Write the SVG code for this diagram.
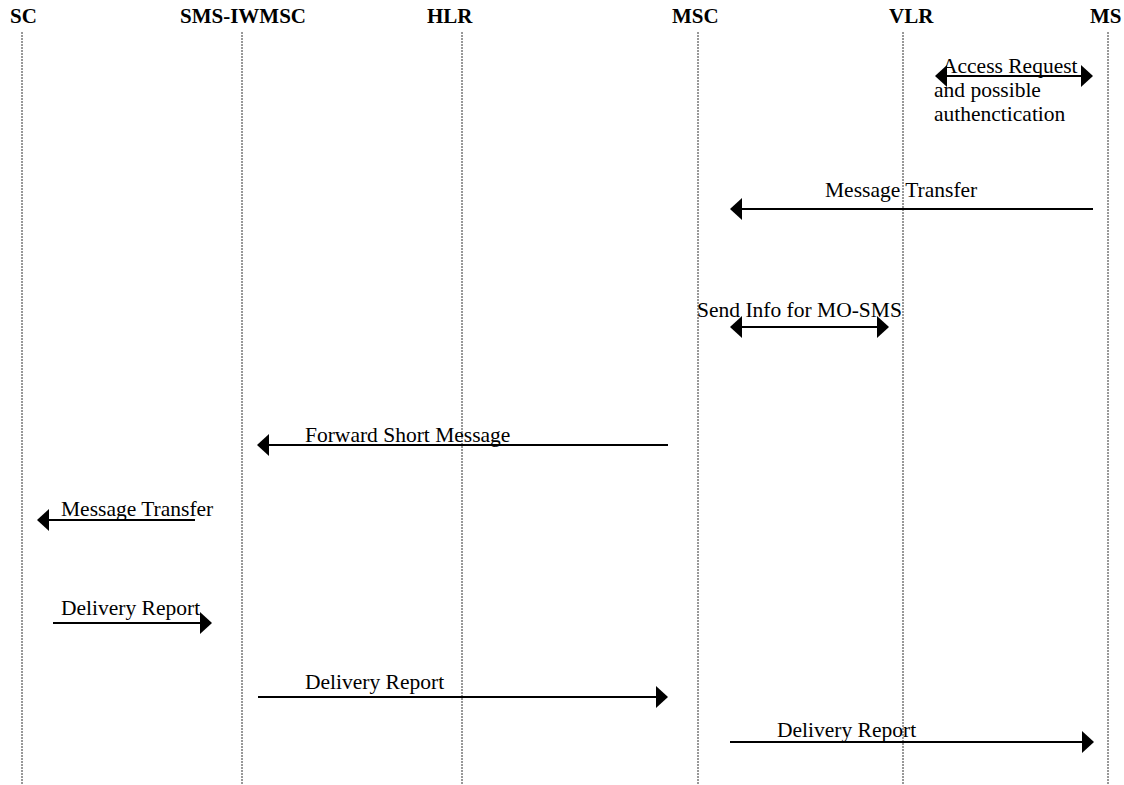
<svg xmlns="http://www.w3.org/2000/svg" width="1124" height="785" viewBox="0 0 1124 785">
<style>
.hdr{font-family:"Liberation Serif",serif;font-weight:bold;font-size:21px;fill:#000}
.lbl{font-family:"Liberation Serif",serif;font-size:21.5px;fill:#000}
.life{stroke:#333;stroke-width:1;stroke-dasharray:2,1;fill:none}
.msg{stroke:#000;stroke-width:2;fill:none}
</style>
<defs>
<marker id="ah" markerUnits="userSpaceOnUse" markerWidth="12" markerHeight="22" viewBox="0 0 12 22" refX="11" refY="11" orient="auto-start-reverse">
<path d="M0,0 L12,11 L0,22 z" fill="#000"/>
</marker>
</defs>
<rect width="1124" height="785" fill="#fff"/>
<g id="node-sc"><text class="hdr" x="10" y="23">SC</text><line class="life" x1="22" y1="32" x2="22" y2="785"/></g>
<g id="node-smsiwmsc"><text class="hdr" x="180" y="23">SMS-IWMSC</text><line class="life" x1="242" y1="32" x2="242" y2="785"/></g>
<g id="node-hlr"><text class="hdr" x="427" y="23">HLR</text><line class="life" x1="462" y1="32" x2="462" y2="785"/></g>
<g id="node-msc"><text class="hdr" x="672" y="23">MSC</text><line class="life" x1="698" y1="32" x2="698" y2="785"/></g>
<g id="node-vlr"><text class="hdr" x="889" y="23">VLR</text><line class="life" x1="903" y1="32" x2="903" y2="785"/></g>
<g id="node-ms"><text class="hdr" x="1090" y="23">MS</text><line class="life" x1="1108" y1="32" x2="1108" y2="785"/></g>
<g id="connectors">
<line class="msg" x1="936" y1="76" x2="1092" y2="76" marker-start="url(#ah)" marker-end="url(#ah)"/>
<text class="lbl" x="942" y="73">Access Request</text>
<text class="lbl" x="934" y="97">and possible</text>
<text class="lbl" x="934" y="121">authenctication</text>

<line class="msg" x1="1093" y1="209" x2="731" y2="209" marker-end="url(#ah)"/>
<text class="lbl" x="825" y="197">Message Transfer</text>

<line class="msg" x1="731" y1="327" x2="888" y2="327" marker-start="url(#ah)" marker-end="url(#ah)"/>
<text class="lbl" x="697" y="317">Send Info for MO-SMS</text>

<line class="msg" x1="668" y1="445" x2="258" y2="445" marker-end="url(#ah)"/>
<text class="lbl" x="305" y="442">Forward Short Message</text>

<line class="msg" x1="195" y1="520" x2="38" y2="520" marker-end="url(#ah)"/>
<text class="lbl" x="61" y="516">Message Transfer</text>

<line class="msg" x1="53" y1="623" x2="211" y2="623" marker-end="url(#ah)"/>
<text class="lbl" x="61" y="615">Delivery Report</text>

<line class="msg" x1="258" y1="697" x2="667" y2="697" marker-end="url(#ah)"/>
<text class="lbl" x="305" y="689">Delivery Report</text>

<line class="msg" x1="730" y1="742" x2="1093" y2="742" marker-end="url(#ah)"/>
<text class="lbl" x="777" y="737">Delivery Report</text>
</g>
</svg>
